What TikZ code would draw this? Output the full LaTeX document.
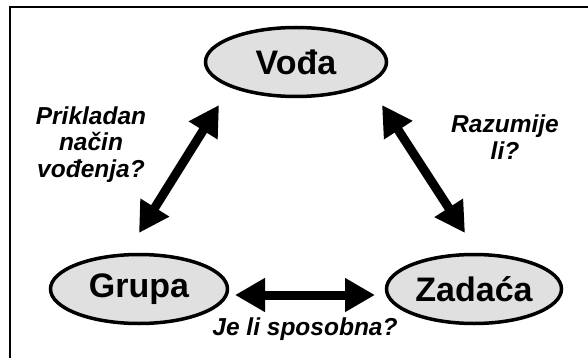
\documentclass[tikz,border=0pt]{standalone}
\usepackage{fontspec}
\setmainfont{Liberation Sans}
\usetikzlibrary{arrows.meta,shapes.geometric}
\definecolor{ellfill}{gray}{0.88}
\tikzset{
  bubble/.style={ellipse, draw=black, line width=3.5pt, fill=ellfill, inner sep=0pt,
    font=\fontsize{34}{40}\selectfont\bfseries},
  question/.style={anchor=base, inner sep=0pt, font=\fontsize{24.5}{27}\selectfont\bfseries\itshape},
  dbl/.style={line width=9pt, {Triangle[length=30pt,width=32pt]}-{Triangle[length=30pt,width=32pt]}},
  frameline/.style={line width=2pt, black}
}
\begin{document}
\begin{tikzpicture}[x=1pt,y=-1pt]
\useasboundingbox (0,0) rectangle (588,358);
% frame
\draw[frameline] (10,358) -- (10,7.5) -- (588,7.5);
% nodes
\node[bubble, minimum width=181pt, minimum height=69pt] (voda) at (296,62) {Vođa};
\node[bubble, minimum width=177pt, minimum height=69pt] (grupa) at (139,289) {Grupa};
\node[bubble, minimum width=175pt, minimum height=69pt] (zadaca) at (474,289) {Zadaća};
% arrow end points
\coordinate (vl) at (219,105);
\coordinate (gl) at (139,233);
\coordinate (vr) at (382,105);
\coordinate (zr) at (465,233);
\coordinate (gh) at (235,295);
\coordinate (zh) at (375,295);
\draw[dbl] (vl) -- (gl);
\draw[dbl] (vr) -- (zr);
\draw[dbl] (gh) -- (zh);
% questions
\node[question] (q1a) at (91,124.5) {Prikladan};
\node[question] (q1b) at (91,151) {način};
\node[question] (q1c) at (91,177.5) {vođenja?};
\node[question] (q2a) at (505,132.5) {Razumije};
\node[question] (q2b) at (505,159.5) {li?};
\node[question] (q3) at (305,335.5) {Je li sposobna?};
\end{tikzpicture}
\end{document}
